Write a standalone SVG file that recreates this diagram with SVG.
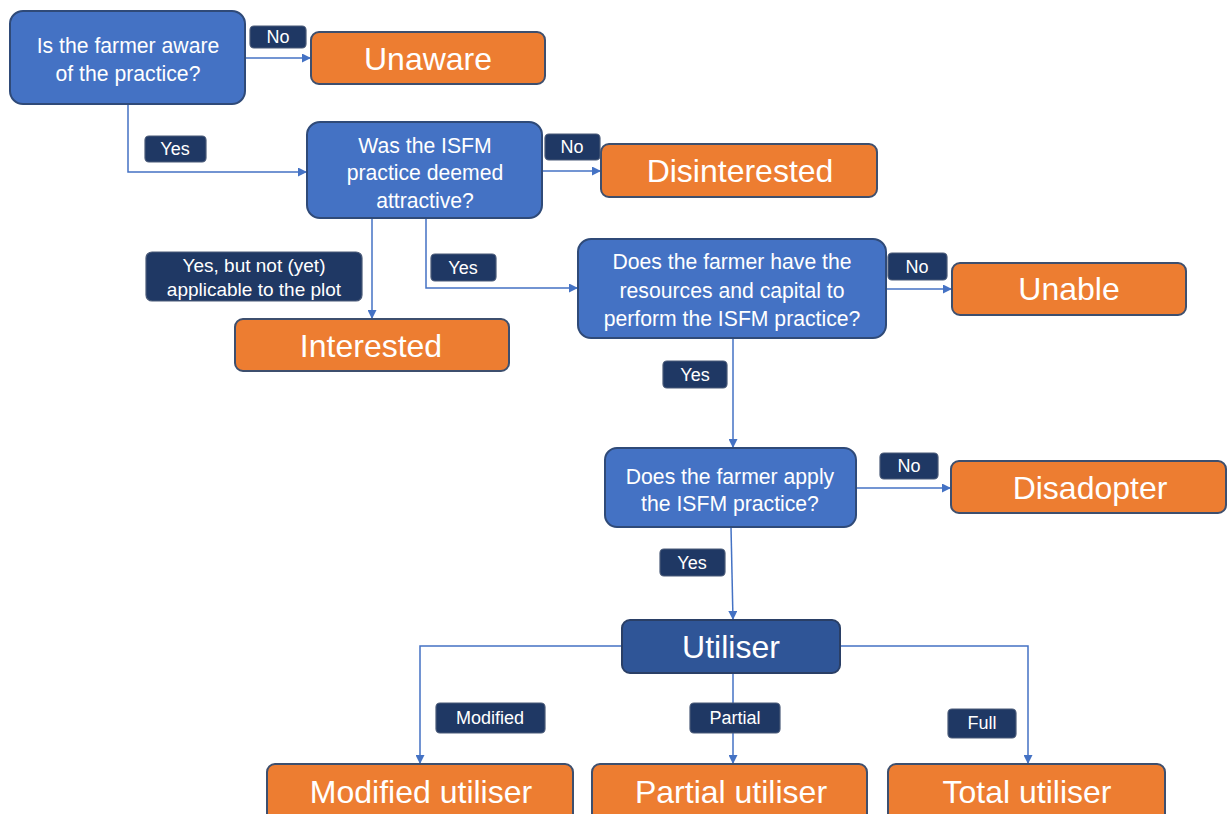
<svg xmlns="http://www.w3.org/2000/svg" width="1227" height="814" viewBox="0 0 1227 814">
  <style>
    .q { fill: #4472C4; stroke: #2F4A78; stroke-width: 2; }
    .out { fill: #ED7D31; stroke: #3D4F6E; stroke-width: 2; }
    .util { fill: #2F5597; stroke: #2A3F66; stroke-width: 2; }
    .lbl { fill: #1F3864; stroke: #4A5A78; stroke-width: 1.2; }
    .qt { font-family: "Liberation Sans", Arial, sans-serif; font-size: 21.2px; fill: #FFFFFF; text-anchor: middle; dominant-baseline: central; }
    .ot { font-family: "Liberation Sans", Arial, sans-serif; font-size: 32px; fill: #FFFFFF; text-anchor: middle; dominant-baseline: central; }
    .lt { font-family: "Liberation Sans", Arial, sans-serif; font-size: 18px; fill: #FFFFFF; text-anchor: middle; dominant-baseline: central; }
    .lt2 { font-size: 19px; }
    .conn { fill: none; stroke: #4472C4; stroke-width: 1.5; }
  </style>
  <defs>
    <marker id="arrow" viewBox="0 0 10 10" refX="10" refY="5" markerWidth="10" markerHeight="9" markerUnits="userSpaceOnUse" orient="auto">
      <path d="M0,0 L10,5 L0,10 z" fill="#4472C4"/>
    </marker>
  </defs>

  <rect width="1227" height="814" fill="#FFFFFF"/>

  <!-- connectors -->
  <g id="connectors">
    <path class="conn" d="M245,58 H311" marker-end="url(#arrow)"/>
    <path class="conn" d="M128,104 V172 H307" marker-end="url(#arrow)"/>
    <path class="conn" d="M542,171 H601" marker-end="url(#arrow)"/>
    <path class="conn" d="M372,218 V319" marker-end="url(#arrow)"/>
    <path class="conn" d="M426,218 V288 H578" marker-end="url(#arrow)"/>
    <path class="conn" d="M886,289 H952" marker-end="url(#arrow)"/>
    <path class="conn" d="M733,338 V448" marker-end="url(#arrow)"/>
    <path class="conn" d="M856,488 H951" marker-end="url(#arrow)"/>
    <path class="conn" d="M731,527 L733,620" marker-end="url(#arrow)"/>
    <path class="conn" d="M622,646 H420 V764" marker-end="url(#arrow)"/>
    <path class="conn" d="M733,673 V764" marker-end="url(#arrow)"/>
    <path class="conn" d="M840,646 H1028 V764" marker-end="url(#arrow)"/>
  </g>

  <!-- decision nodes -->
  <g id="q-aware">
    <rect class="q" x="10" y="11" width="235" height="93" rx="13"/>
    <text class="qt" x="128" y="45">Is the farmer aware</text>
    <text class="qt" x="128" y="73">of the practice?</text>
  </g>
  <g id="q-attractive">
    <rect class="q" x="307" y="122" width="235" height="96" rx="13"/>
    <text class="qt" x="425" y="145">Was the ISFM</text>
    <text class="qt" x="425" y="172">practice deemed</text>
    <text class="qt" x="425" y="200">attractive?</text>
  </g>
  <g id="q-resources">
    <rect class="q" x="578" y="239" width="308" height="99" rx="13"/>
    <text class="qt" x="732" y="261">Does the farmer have the</text>
    <text class="qt" x="732" y="290">resources and capital to</text>
    <text class="qt" x="732" y="318">perform the ISFM practice?</text>
  </g>
  <g id="q-apply">
    <rect class="q" x="605" y="448" width="251" height="79" rx="12"/>
    <text class="qt" x="730" y="476">Does the farmer apply</text>
    <text class="qt" x="730" y="503">the ISFM practice?</text>
  </g>

  <!-- outcome nodes -->
  <g id="unaware">
    <rect class="out" x="311" y="32" width="234" height="52" rx="8"/>
    <text class="ot" x="428" y="59">Unaware</text>
  </g>
  <g id="disinterested">
    <rect class="out" x="601" y="144" width="276" height="53" rx="8"/>
    <text class="ot" x="740" y="171">Disinterested</text>
  </g>
  <g id="interested">
    <rect class="out" x="235" y="319" width="274" height="52" rx="8"/>
    <text class="ot" x="371" y="346">Interested</text>
  </g>
  <g id="unable">
    <rect class="out" x="952" y="263" width="234" height="52" rx="8"/>
    <text class="ot" x="1069" y="289">Unable</text>
  </g>
  <g id="disadopter">
    <rect class="out" x="951" y="461" width="275" height="52" rx="8"/>
    <text class="ot" x="1090" y="488">Disadopter</text>
  </g>
  <g id="utiliser">
    <rect class="util" x="622" y="620" width="218" height="53" rx="8"/>
    <text class="ot" x="731" y="647">Utiliser</text>
  </g>
  <g id="modified-utiliser">
    <rect class="out" x="267" y="764" width="306" height="60" rx="8"/>
    <text class="ot" x="421" y="792">Modified utiliser</text>
  </g>
  <g id="partial-utiliser">
    <rect class="out" x="592" y="764" width="275" height="60" rx="8"/>
    <text class="ot" x="731" y="792">Partial utiliser</text>
  </g>
  <g id="total-utiliser">
    <rect class="out" x="888" y="764" width="277" height="60" rx="8"/>
    <text class="ot" x="1027" y="792">Total utiliser</text>
  </g>

  <!-- edge labels -->
  <g id="label-no-1">
    <rect class="lbl" x="250" y="26" width="56" height="22" rx="4"/>
    <text class="lt" x="278" y="37">No</text>
  </g>
  <g id="label-yes-1">
    <rect class="lbl" x="145" y="136" width="61" height="26" rx="4"/>
    <text class="lt" x="175" y="149">Yes</text>
  </g>
  <g id="label-no-2">
    <rect class="lbl" x="545" y="134" width="55" height="26" rx="4"/>
    <text class="lt" x="572" y="147">No</text>
  </g>
  <g id="label-yes-but">
    <rect class="lbl" x="146" y="252" width="216" height="49" rx="6"/>
    <text class="lt lt2" x="254" y="265">Yes, but not (yet)</text>
    <text class="lt lt2" x="254" y="289">applicable to the plot</text>
  </g>
  <g id="label-yes-2">
    <rect class="lbl" x="431" y="254" width="65" height="27" rx="4"/>
    <text class="lt" x="463" y="268">Yes</text>
  </g>
  <g id="label-no-3">
    <rect class="lbl" x="888" y="253" width="59" height="27" rx="4"/>
    <text class="lt" x="917" y="267">No</text>
  </g>
  <g id="label-yes-3">
    <rect class="lbl" x="663" y="361" width="64" height="27" rx="4"/>
    <text class="lt" x="695" y="375">Yes</text>
  </g>
  <g id="label-no-4">
    <rect class="lbl" x="880" y="453" width="58" height="26" rx="4"/>
    <text class="lt" x="909" y="466">No</text>
  </g>
  <g id="label-yes-4">
    <rect class="lbl" x="660" y="549" width="65" height="27" rx="4"/>
    <text class="lt" x="692" y="563">Yes</text>
  </g>
  <g id="label-modified">
    <rect class="lbl" x="436" y="703" width="109" height="30" rx="4"/>
    <text class="lt" x="490" y="718">Modified</text>
  </g>
  <g id="label-partial">
    <rect class="lbl" x="690" y="703" width="90" height="30" rx="4"/>
    <text class="lt" x="735" y="718">Partial</text>
  </g>
  <g id="label-full">
    <rect class="lbl" x="948" y="709" width="68" height="29" rx="4"/>
    <text class="lt" x="982" y="723">Full</text>
  </g>
</svg>
